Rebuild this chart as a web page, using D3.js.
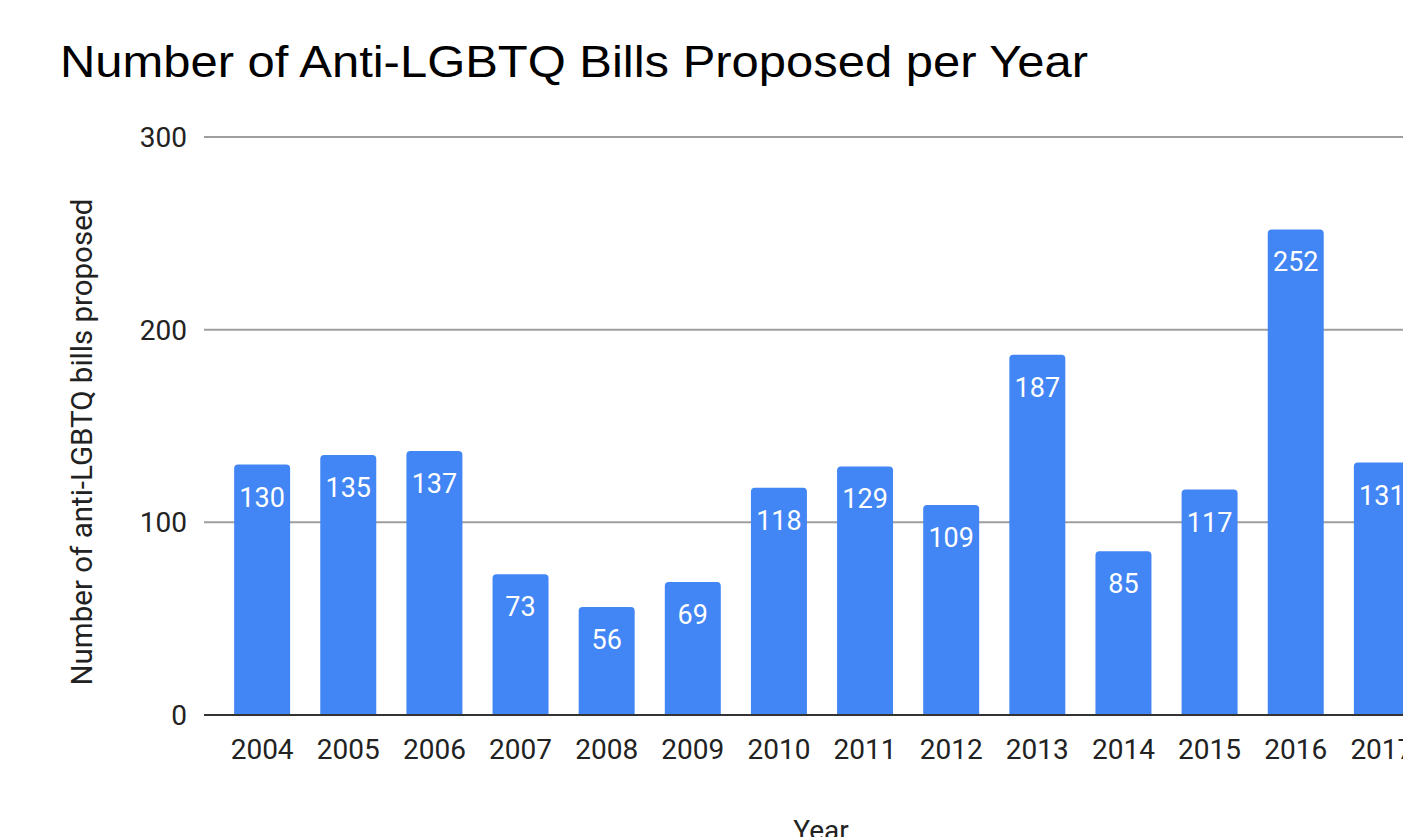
<!DOCTYPE html>
<html>
<head>
<meta charset="utf-8">
<script src="https://cdn.jsdelivr.net/npm/d3@7"></script>
<style>
  html, body { margin: 0; padding: 0; background: #fff; overflow: hidden; }
  svg { display: block; }
</style>
</head>
<body>
<div class="chartWrapper"></div>
<script>
var years = ["2004", "2005", "2006", "2007", "2008", "2009", "2010", "2011", "2012", "2013", "2014", "2015", "2016", "2017"]
var bills = [130, 135, 137, 73, 56, 69, 118, 129, 109, 187, 85, 117, 252, 131]
var yTicks = [0, 100, 200, 300]

var width = 1403, height = 837
var margin = {top: 137, bottom: 122, left: 204}

var svg = d3.select('.chartWrapper').append('svg')
    .attr('width', width)
    .attr('height', height)

// chart is cropped on the right, so the band range runs past the page edge
var x = d3.scaleBand()
    .domain(years)
    .range([margin.left, 1440])
    .paddingInner(0.35)
    .paddingOuter(0.35)

var y = d3.scaleLinear()
    .domain([0, 300])
    .range([height - margin.bottom, margin.top])

svg.append('text')
    .attr('x', 60)
    .attr('y', 77)
    .attr('font-family', 'Liberation Sans, Arial, sans-serif')
    .attr('font-size', 44)
    .attr('textLength', 1028)
    .attr('lengthAdjust', 'spacingAndGlyphs')
    .attr('fill', '#000')
    .text('Number of Anti-LGBTQ Bills Proposed per Year')

// gridlines
svg.selectAll('.grid')
    .data(yTicks.filter(function(d) { return d > 0 }))
    .enter()
    .append('line')
    .attr('x1', margin.left)
    .attr('x2', width)
    .attr('y1', function(d) { return y(d) })
    .attr('y2', function(d) { return y(d) })
    .attr('stroke', '#9e9e9e')
    .attr('stroke-width', 2)

svg.selectAll('.ytick')
    .data(yTicks)
    .enter()
    .append('text')
    .attr('x', 187)
    .attr('y', function(d) { return y(d) })
    .attr('dy', '0.36em')
    .attr('text-anchor', 'end')
    .attr('font-family', 'Roboto, sans-serif')
    .attr('font-size', 28)
    .attr('fill', '#222')
    .text(function(d) { return d })

var r = 4
svg.selectAll('.bar')
    .data(bills)
    .enter()
    .append('path')
    .attr('fill', '#4285f4')
    .attr('d', function(d, i) {
        var x0 = x(years[i]), w = x.bandwidth(), y0 = y(d), y1 = y(0)
        return 'M' + x0 + ',' + y1 + 'V' + (y0 + r) + 'Q' + x0 + ',' + y0 + ' ' + (x0 + r) + ',' + y0 +
            'H' + (x0 + w - r) + 'Q' + (x0 + w) + ',' + y0 + ' ' + (x0 + w) + ',' + (y0 + r) + 'V' + y1 + 'Z'
    })

svg.selectAll('.val')
    .data(bills)
    .enter()
    .append('text')
    .attr('x', function(d, i) { return x(years[i]) + x.bandwidth() / 2 })
    .attr('y', function(d) { return y(d) + 42 })
    .attr('text-anchor', 'middle')
    .attr('font-family', 'Roboto, sans-serif')
    .attr('font-size', 27)
    .attr('fill', '#fff')
    .text(function(d) { return d })

// baseline
svg.append('line')
    .attr('x1', margin.left)
    .attr('x2', width)
    .attr('y1', y(0))
    .attr('y2', y(0))
    .attr('stroke', '#333')
    .attr('stroke-width', 2)

svg.selectAll('.xtick')
    .data(years)
    .enter()
    .append('text')
    .attr('x', function(d) { return x(d) + x.bandwidth() / 2 })
    .attr('y', 759)
    .attr('text-anchor', 'middle')
    .attr('font-family', 'Roboto, sans-serif')
    .attr('font-size', 28)
    .attr('fill', '#222')
    .text(function(d) { return d })

svg.append('text')
    .attr('x', 821)
    .attr('y', 840)
    .attr('text-anchor', 'middle')
    .attr('font-family', 'Roboto, sans-serif')
    .attr('font-size', 28)
    .attr('fill', '#222')
    .text('Year')

svg.append('text')
    .attr('transform', 'translate(92,' + 442 + ') rotate(-90)')
    .attr('text-anchor', 'middle')
    .attr('font-family', 'Roboto, sans-serif')
    .attr('font-size', 29.5)
    .attr('fill', '#222')
    .text('Number of anti-LGBTQ bills proposed')
</script>
</body>
</html>
